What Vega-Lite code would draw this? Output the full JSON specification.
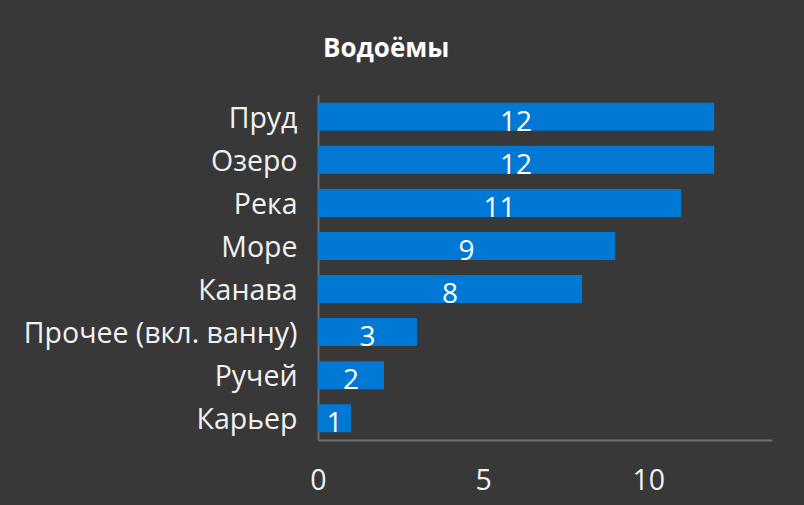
{
  "$schema": "https://vega.github.io/schema/vega-lite/v6.json",
  "width": 454,
  "height": 345,
  "autosize": {"type": "none"},
  "padding": {"left": 318, "top": 95, "right": 32, "bottom": 65},
  "background": "#383838",
  "title": {
    "text": "Водоёмы",
    "anchor": "start",
    "frame": "group",
    "dx": 5,
    "offset": 33,
    "font": "Open Sans",
    "fontSize": 26,
    "fontWeight": "bold",
    "color": "#ffffff"
  },
  "config": {
    "view": {"stroke": null},
    "font": "Open Sans"
  },
  "data": {
    "values": [
      {"cat": "Пруд", "n": 12},
      {"cat": "Озеро", "n": 12},
      {"cat": "Река", "n": 11},
      {"cat": "Море", "n": 9},
      {"cat": "Канава", "n": 8},
      {"cat": "Прочее (вкл. ванну)", "n": 3},
      {"cat": "Ручей", "n": 2},
      {"cat": "Карьер", "n": 1}
    ]
  },
  "encoding": {
    "y": {
      "field": "cat",
      "type": "nominal",
      "sort": null,
      "scale": {"paddingInner": 0.35, "paddingOuter": 0.18},
      "axis": {
        "title": null,
        "ticks": false,
        "grid": false,
        "domainColor": "#6e6e6e",
        "domainWidth": 2,
        "labelFont": "Open Sans",
        "labelFontSize": 28.5,
        "labelColor": "#f2f2f2",
        "labelPadding": 21,
        "labelOffset": 2,
        "labelLimit": 400
      }
    },
    "x": {
      "field": "n",
      "type": "quantitative",
      "scale": {"domain": [0, 13.75], "nice": false, "zero": true},
      "axis": {
        "title": null,
        "values": [0, 5, 10],
        "ticks": false,
        "grid": false,
        "labelFlush": false,
        "domainColor": "#6e6e6e",
        "domainWidth": 2,
        "labelFont": "Open Sans",
        "labelFontSize": 28.5,
        "labelColor": "#f2f2f2",
        "labelPadding": 26
      }
    }
  },
  "layer": [
    {
      "mark": {"type": "bar", "color": "#0078D4"}
    },
    {
      "transform": [{"calculate": "datum.n / 2", "as": "mid"}],
      "mark": {
        "type": "text",
        "color": "#ffffff",
        "font": "Open Sans",
        "fontSize": 28,
        "baseline": "alphabetic",
        "align": "center",
        "dy": 14
      },
      "encoding": {
        "x": {"field": "mid", "type": "quantitative"},
        "text": {"field": "n", "type": "quantitative"}
      }
    }
  ]
}
